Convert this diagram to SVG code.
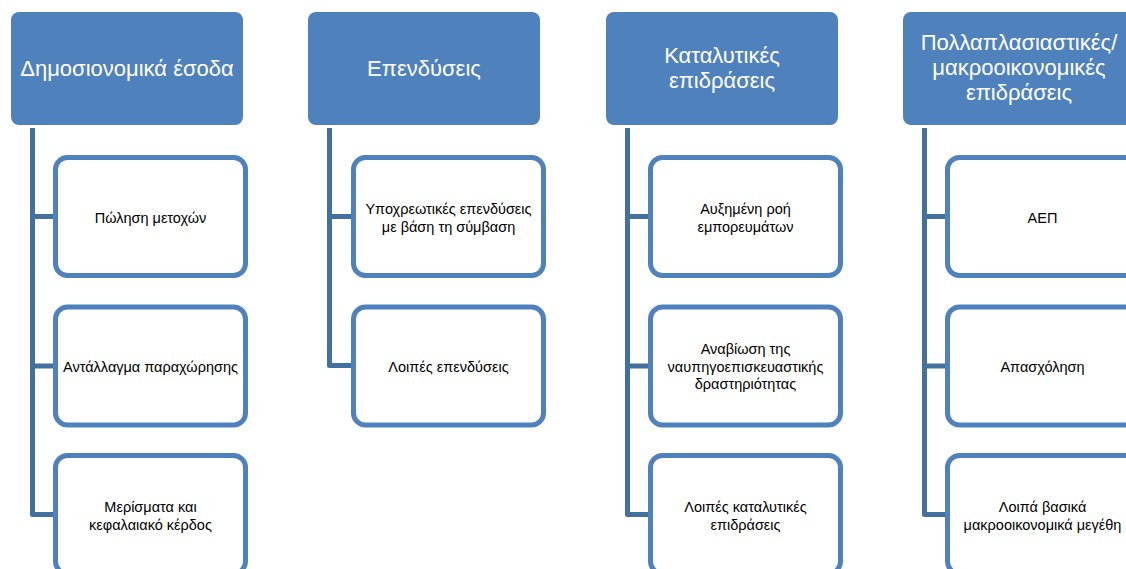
<svg xmlns="http://www.w3.org/2000/svg" width="1126" height="569" viewBox="0 0 1126 569">
<style>
.hdr{fill:#4F81BD}
.ht{fill:#FFFFFF;font-family:"Liberation Sans",Arial,sans-serif;font-size:22px;text-anchor:middle}
.box{fill:#FFFFFF;stroke:#4F81BD;stroke-width:5}
.bt{fill:#000000;font-family:"Liberation Sans",Arial,sans-serif;font-size:14.5px;text-anchor:middle}
.con{fill:none;stroke:#41719C;stroke-width:5;stroke-linejoin:round}
</style>
<rect width="1126" height="569" fill="#FFFFFF"/>
<g id="connectors">
<path class="con" d="M32.5,128 V514.5 H55 M32.5,216.5 H55 M32.5,366 H55"/>
<path class="con" d="M329.5,128 V365.5 H353 M329.5,216.5 H353"/>
<path class="con" d="M627.5,128 V514.5 H650 M627.5,216.5 H650 M627.5,366 H650"/>
<path class="con" d="M924.5,128 V514.5 H947 M924.5,216.5 H947 M924.5,366 H947"/>
</g>
<g id="h1"><rect class="hdr" x="11" y="12" width="232" height="113" rx="8"/><text class="ht" x="127" y="76">Δημοσιονομικά έσοδα</text></g>
<g id="h2"><rect class="hdr" x="308" y="12" width="232" height="113" rx="8"/><text class="ht" x="424" y="76">Επενδύσεις</text></g>
<g id="h3"><rect class="hdr" x="606" y="12" width="232" height="113" rx="8"/><text class="ht" x="722" y="63">Καταλυτικές</text><text class="ht" x="722" y="88">επιδράσεις</text></g>
<g id="h4"><rect class="hdr" x="903" y="12" width="232" height="113" rx="8"/><text class="ht" x="1019" y="50">Πολλαπλασιαστικές/</text><text class="ht" x="1019" y="75">μακροοικονομικές</text><text class="ht" x="1019" y="100">επιδράσεις</text></g>
<g id="c1a"><rect class="box" x="55.5" y="157.5" width="190" height="118" rx="12"/><text class="bt" x="150.5" y="222.5">Πώληση μετοχών</text></g>
<g id="c1b"><rect class="box" x="55.5" y="307" width="190" height="118" rx="12"/><text class="bt" x="150.5" y="372">Αντάλλαγμα παραχώρησης</text></g>
<g id="c1c"><rect class="box" x="55.5" y="455.5" width="190" height="118" rx="12"/><text class="bt" x="150.5" y="512">Μερίσματα και</text><text class="bt" x="150.5" y="529.5">κεφαλαιακό κέρδος</text></g>
<g id="c2a"><rect class="box" x="353.5" y="157.5" width="190" height="118" rx="12"/><text class="bt" x="448.5" y="214">Υποχρεωτικές επενδύσεις</text><text class="bt" x="448.5" y="231.5">με βάση τη σύμβαση</text></g>
<g id="c2b"><rect class="box" x="353.5" y="307" width="190" height="118" rx="12"/><text class="bt" x="448.5" y="372">Λοιπές επενδύσεις</text></g>
<g id="c3a"><rect class="box" x="650.5" y="157.5" width="190" height="118" rx="12"/><text class="bt" x="745.5" y="214">Αυξημένη ροή</text><text class="bt" x="745.5" y="231.5">εμπορευμάτων</text></g>
<g id="c3b"><rect class="box" x="650.5" y="307" width="190" height="118" rx="12"/><text class="bt" x="745.5" y="354">Αναβίωση της</text><text class="bt" x="745.5" y="371.5">ναυπηγοεπισκευαστικής</text><text class="bt" x="745.5" y="389">δραστηριότητας</text></g>
<g id="c3c"><rect class="box" x="650.5" y="455.5" width="190" height="118" rx="12"/><text class="bt" x="745.5" y="512">Λοιπές καταλυτικές</text><text class="bt" x="745.5" y="529.5">επιδράσεις</text></g>
<g id="c4a"><rect class="box" x="947.5" y="157.5" width="190" height="118" rx="12"/><text class="bt" x="1042.5" y="222.5">ΑΕΠ</text></g>
<g id="c4b"><rect class="box" x="947.5" y="307" width="190" height="118" rx="12"/><text class="bt" x="1042.5" y="372">Απασχόληση</text></g>
<g id="c4c"><rect class="box" x="947.5" y="455.5" width="190" height="118" rx="12"/><text class="bt" x="1042.5" y="512">Λοιπά βασικά</text><text class="bt" x="1042.5" y="529.5">μακροοικονομικά μεγέθη</text></g>
</svg>
